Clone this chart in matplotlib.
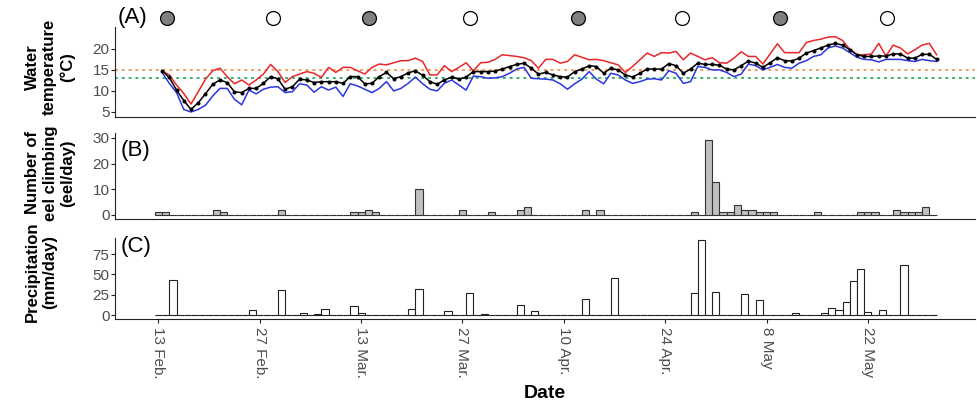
import numpy as np
import matplotlib
matplotlib.use("Agg")
import matplotlib.pyplot as plt

plt.rcParams['font.family'] = ['Liberation Sans', 'DejaVu Sans']

# daily water temperature (deg C), day 0 = 13 Feb
temp_mean = [14.8, 13.2, 10.2, 7.7, 5.6, 7.2, 9.3, 11.6, 12.6, 12.0,
             9.8, 9.6, 10.6, 10.6, 11.8, 13.4, 12.9, 10.4, 11.0, 12.8,
             12.6, 12.0, 12.2, 12.2, 12.2, 11.8, 13.4, 13.4, 11.7, 11.8,
             13.4, 14.4, 12.9, 13.4, 14.3, 14.8, 13.7, 12.2, 11.6, 12.6,
             13.3, 12.8, 13.3, 14.6, 14.6, 14.6, 14.7, 15.2, 15.8, 16.3,
             16.6, 15.4, 14.0, 14.4, 13.8, 13.4, 13.3, 14.6, 15.2, 16.0,
             15.8, 14.2, 15.4, 15.0, 13.8, 13.3, 14.2, 15.2, 15.2, 15.2,
             16.5, 16.0, 14.2, 15.2, 16.6, 16.3, 16.3, 16.1, 15.2, 15.0,
             16.0, 17.1, 16.6, 15.6, 16.7, 17.9, 17.2, 17.1, 17.8, 19.0,
             19.6, 20.2, 20.9, 21.3, 20.9, 19.8, 18.6, 18.2, 18.2, 18.3,
             18.3, 18.8, 18.8, 17.8, 17.8, 18.7, 18.7, 17.5]
temp_max = [14.8, 13.8, 11.4, 9.4, 6.9, 9.8, 12.8, 14.8, 15.4, 13.4,
            11.7, 12.6, 11.4, 12.6, 14.0, 16.3, 14.6, 12.0, 13.4, 14.0,
            14.6, 14.2, 13.2, 15.6, 14.4, 15.6, 15.6, 14.8, 14.0, 15.6,
            16.4, 16.2, 16.7, 17.2, 17.2, 17.8, 17.0, 13.8, 13.8, 16.0,
            14.6, 15.6, 16.7, 14.8, 16.7, 16.8, 17.5, 18.6, 18.4, 18.2,
            17.9, 17.2, 15.4, 17.5, 17.5, 16.6, 17.0, 18.6, 18.0, 17.4,
            17.5, 17.2, 16.7, 16.2, 14.4, 15.8, 17.4, 19.0, 18.2, 19.1,
            19.0, 19.4, 17.4, 19.0, 18.2, 17.4, 17.9, 16.7, 16.6, 17.8,
            19.3, 18.2, 18.2, 16.4, 18.8, 21.2, 19.1, 19.1, 19.1, 21.5,
            22.0, 22.3, 22.8, 22.9, 22.0, 19.9, 18.6, 18.6, 18.8, 21.3,
            18.3, 20.9, 20.2, 18.8, 19.8, 20.9, 21.3, 18.6]
temp_min = [14.4, 11.8, 9.6, 5.6, 5.0, 5.6, 6.6, 8.8, 10.6, 10.6,
            8.0, 6.7, 10.2, 9.3, 10.4, 10.9, 11.0, 9.6, 9.8, 11.7,
            11.4, 9.7, 11.0, 10.2, 10.9, 8.7, 11.7, 11.2, 10.4, 9.6,
            10.6, 12.2, 10.0, 10.6, 11.8, 13.3, 11.7, 10.4, 10.0, 11.8,
            12.6, 11.4, 10.2, 13.5, 13.4, 13.0, 13.1, 13.4, 14.2, 15.2,
            15.6, 13.0, 12.9, 12.8, 12.6, 11.7, 10.4, 11.7, 12.8, 14.6,
            12.8, 11.7, 14.2, 13.8, 12.6, 11.8, 12.2, 12.8, 12.9, 12.6,
            14.8, 14.2, 11.8, 12.2, 15.8, 15.6, 15.0, 15.0, 14.4, 13.4,
            14.0, 16.4, 16.0, 15.0, 15.6, 16.3, 15.6, 15.4, 16.6, 17.2,
            18.2, 18.6, 20.2, 20.7, 20.2, 19.1, 18.0, 17.5, 17.4, 16.9,
            17.5, 17.5, 17.5, 17.2, 17.0, 17.5, 17.2, 17.0]

# eel climbing counts: day -> eel/day (other days 0)
eel_days = [0, 1, 8, 9, 17, 27, 28, 29, 30, 36, 42, 46, 50, 51, 59, 61, 74,
            76, 77, 78, 79, 80, 81, 82, 83, 84, 85, 91, 97, 98, 99, 102,
            103, 104, 105, 106]
eel_counts = [1, 1, 2, 1, 2, 1, 1, 2, 1, 10, 2, 1, 2, 3, 2, 2, 1,
              29, 13, 1, 1, 4, 2, 2, 1, 1, 1, 1, 1, 1, 1, 2,
              1, 1, 1, 3]

# precipitation: day -> mm/day (other days 0)
rain_days = [2, 13, 17, 20, 22, 23, 27, 28, 35, 36, 40, 43, 45, 50, 52, 59,
             63, 74, 75, 77, 81, 83, 88, 92, 93, 94, 95, 96, 97, 98, 100, 103]
rain_mm = [43, 6, 31, 2, 1, 7, 11, 2, 7, 32, 5, 27, 1, 12, 5, 20,
           45, 27, 92, 28, 26, 18, 2, 2, 9, 6, 16, 42, 57, 4, 6, 61]

moon_days = [1.2, 15.8, 29.1, 43.0, 58.0, 72.3, 85.9, 100.7]
moon_new = [True, False, True, False, True, False, True, False]

tick_days = [0, 14, 28, 42, 56, 70, 84, 98]
tick_labels = ["13 Feb.", "27 Feb.", "13 Mar.", "27 Mar.", "10 Apr.",
               "24 Apr.", "8 May", "22 May"]

n_days = len(temp_mean)
days = np.arange(n_days)
eel = np.zeros(n_days)
eel[eel_days] = eel_counts
rain = np.zeros(n_days)
rain[rain_days] = rain_mm

W, H = 977, 404
fig = plt.figure(figsize=(W / 100, H / 100), dpi=100)


def px_axes(top, bottom):
    return fig.add_axes([115 / W, 1 - bottom / H, 860 / W, (bottom - top) / H])


axA = px_axes(27, 117)
axB = px_axes(133, 219)
axC = px_axes(238, 319)

tick_col = '#4d4d4d'
for ax in (axA, axB, axC):
    ax.set_xlim(-6, 112.8)
    ax.spines['top'].set_visible(False)
    ax.spines['right'].set_visible(False)
    ax.spines['left'].set_color('#222222')
    ax.spines['bottom'].set_color('#222222')
    ax.tick_params(axis='y', labelsize=11, labelcolor=tick_col, length=3,
                   width=0.8, pad=1, color='#222222')
    ax.set_xticks(tick_days)

# panel A
axA.axhline(15, color='#f0a060', lw=1.4, ls=(0, (1.5, 2)))
axA.axhline(13, color='#40b070', lw=1.4, ls=(0, (1.5, 2)))
xl = days + 0.5
axA.plot(xl, temp_max, color='#e8272a', lw=1.1)
axA.plot(xl, temp_min, color='#2a35e0', lw=1.1)
axA.plot(xl, temp_mean, color='black', lw=1.1, marker='o', ms=1.9)
axA.set_ylim(3.8, 25.2)
axA.set_yticks([5, 10, 15, 20])
axA.tick_params(axis='x', length=0, labelbottom=False)
for d, new in zip(moon_days, moon_new):
    axA.plot(d, 1.1, marker='o', ms=10, mec='black', mew=0.9,
             mfc='#808080' if new else 'white',
             transform=axA.get_xaxis_transform(), clip_on=False)
axA.text(0.003, 1.1, "(A)", transform=axA.transAxes, fontsize=16,
         va='center', ha='left')

# panel B
axB.bar(days, eel, width=1.0, color='#c0c0c0', edgecolor='#333333', lw=0.8)
axB.set_ylim(-1.6, 31.9)
axB.set_yticks([0, 10, 20, 30])
axB.tick_params(axis='x', length=0, labelbottom=False)
axB.text(0.006, 0.80, "(B)", transform=axB.transAxes, fontsize=16,
         va='center', ha='left')

# panel C
axC.bar(days, rain, width=1.0, color='white', edgecolor='#222222', lw=0.8)
axC.set_ylim(-4.9, 94.7)
axC.set_yticks([0, 25, 50, 75])
axC.set_xticklabels(tick_labels, rotation=270, fontsize=11, color=tick_col,
                    va='top')
axC.tick_params(axis='x', length=3, width=0.8, color='#222222', pad=3)
axC.text(0.006, 0.90, "(C)", transform=axC.transAxes, fontsize=16,
         va='center', ha='left')

# axis titles
fig.text(50 / W, 1 - 67 / H, "Water\ntemperature\n(°C)", rotation=90,
         ha='center', va='center', fontsize=12, fontweight='bold',
         multialignment='center', linespacing=1.2)
fig.text(50 / W, 1 - 173 / H, "Number of\neel climbing\n(eel/day)",
         rotation=90, ha='center', va='center', fontsize=12,
         fontweight='bold', multialignment='center', linespacing=1.2)
fig.text(41 / W, 1 - 272 / H, "Precipitation\n(mm/day)", rotation=90,
         ha='center', va='center', fontsize=12, fontweight='bold',
         multialignment='center', linespacing=1.2)
fig.text(545 / W, 1 - 393 / H, "Date", ha='center', va='center',
         fontsize=14, fontweight='bold')

fig.savefig("out.png", dpi=100)
